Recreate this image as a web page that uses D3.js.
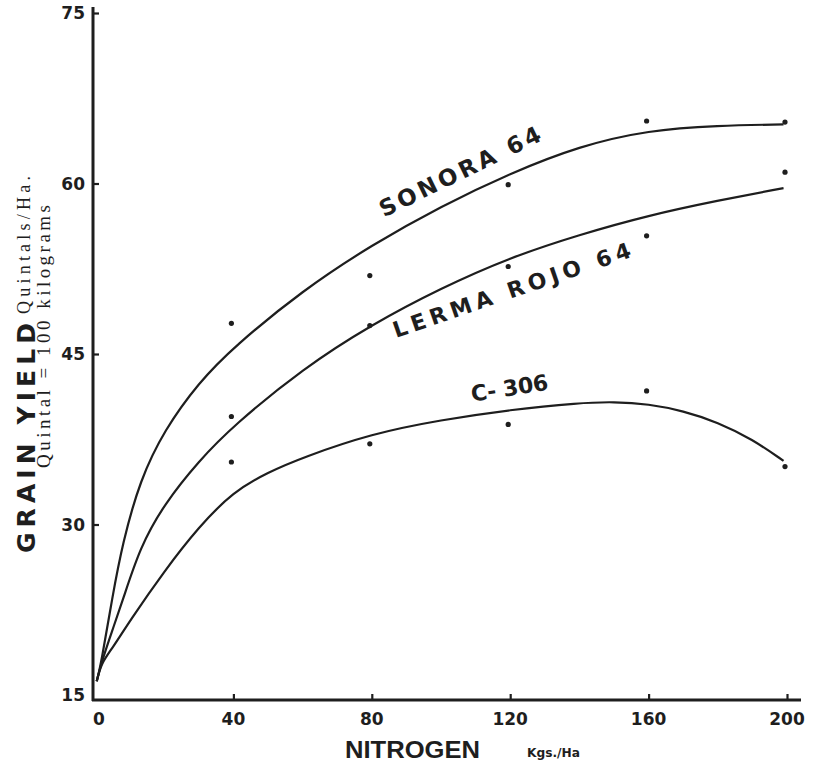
<!DOCTYPE html>
<html><head><meta charset="utf-8">
<script src="https://cdn.jsdelivr.net/npm/d3@7/dist/d3.min.js"></script>
<style>body{margin:0;background:#fff}svg{display:block}</style>
</head><body>
<script>
// ---- data ----
const xTicks = [0, 40, 80, 120, 160, 200];
const yTicks = [15, 30, 45, 60, 75];
const nitrogen = [40, 80, 120, 160, 200];
const sonoraPts = [47.7, 51.9, 59.9, 65.5, 65.4];
const lermaPts  = [39.5, 47.5, 52.7, 55.4, 61.0];
const c306Pts   = [35.5, 37.1, 38.8, 41.75, 35.1];
// fitted curves
const curveXA = [0.5, 1.8, 5, 8, 13, 20, 30, 40, 60, 80, 100, 120, 140, 160, 180, 199];
const sonoraCurve = [16.2, 17.8, 23.6, 28.4, 33.9, 38.3, 42.5, 45.6, 50.6, 54.6, 58.0, 60.9, 63.3, 64.7, 65.1, 65.2];
const lermaCurve  = [16.2, 17.8, 20.7, 23.3, 28.0, 31.8, 35.6, 38.7, 43.7, 47.6, 50.8, 53.5, 55.5, 57.2, 58.5, 59.6];
const curveXC = [0.5, 1.8, 5, 10, 20, 30, 40, 50, 60, 80, 100, 120, 140, 150, 160, 170, 180, 190, 199];
const c306Curve   = [16.2, 17.8, 19.1, 21.5, 25.9, 29.8, 32.9, 34.6, 35.9, 38.0, 39.2, 40.1, 40.7, 40.8, 40.6, 40.0, 39.0, 37.5, 35.6];

const W = 823, H = 766;
const svg = d3.select("body").append("svg").attr("width", W).attr("height", H);
const x = d3.scaleLinear().domain([0, 200]).range([95, 787]);
const y = d3.scaleLinear().domain([15, 75]).range([695, 13]);
const ink = "#1e1e1e";
const axisX = 93, axisY = 700;

// axes lines
svg.append("line").attr("x1", axisX).attr("x2", axisX).attr("y1", 7).attr("y2", axisY + 1)
  .attr("stroke", ink).attr("stroke-width", 3);
svg.append("line").attr("x1", axisX - 1).attr("x2", 801).attr("y1", axisY).attr("y2", axisY)
  .attr("stroke", ink).attr("stroke-width", 3);

// y ticks
const yg = svg.append("g").attr("transform", `translate(${axisX},0)`)
  .call(d3.axisRight(y).tickValues(yTicks.filter(d => d > 15)).tickSize(6).tickFormat(""));
yg.select(".domain").remove();
yg.selectAll(".tick line").attr("stroke", ink).attr("stroke-width", 2.2);
svg.selectAll(".ylab").data(yTicks).enter().append("text")
  .attr("x", 85).attr("y", d => y(d)).attr("dy", "0.36em")
  .attr("text-anchor", "end").attr("font-family", "DejaVu Sans").attr("font-weight", "bold")
  .attr("font-size", 17).attr("fill", ink).text(d => d);

// x ticks
const xg = svg.append("g").attr("transform", `translate(0,${axisY})`)
  .call(d3.axisTop(x).tickValues(xTicks.filter(d => d > 0)).tickSize(6).tickFormat(""));
xg.select(".domain").remove();
xg.selectAll(".tick line").attr("stroke", ink).attr("stroke-width", 2.2);
svg.selectAll(".xlab").data(xTicks).enter().append("text")
  .attr("x", d => x(d) + (d === 0 ? 4 : 0)).attr("y", 725)
  .attr("text-anchor", "middle").attr("font-family", "DejaVu Sans").attr("font-weight", "bold")
  .attr("font-size", 17).attr("fill", ink).text(d => d);

// curves
const line = d3.line().x(d => x(d[0])).y(d => y(d[1])).curve(d3.curveBasis);
const curves = [
  [curveXA, sonoraCurve], [curveXA, lermaCurve], [curveXC, c306Curve]
];
curves.forEach(([xs, ys]) => {
  svg.append("path").datum(xs.map((v, i) => [v, ys[i]])).attr("d", line)
    .attr("fill", "none").attr("stroke", ink).attr("stroke-width", 2.2);
});

// dots
[sonoraPts, lermaPts, c306Pts].forEach(pts => {
  svg.selectAll(null).data(pts.map((v, i) => [nitrogen[i], v])).enter().append("circle")
    .attr("cx", d => x(d[0]) - 2).attr("cy", d => y(d[1])).attr("r", 2.6).attr("fill", ink);
});

// curve labels
function label(txt, xv, yv, ang, size, len) {
  svg.append("text").attr("transform", `translate(${x(xv)},${y(yv)}) rotate(${ang})`)
    .attr("font-family", "DejaVu Sans").attr("font-weight", "bold").attr("font-size", size)
    .attr("fill", ink).attr("textLength", len).attr("lengthAdjust", "spacing").text(txt);
}
label("SONORA  64", 83.5, 57.0, -26, 23, 177);
label("LERMA ROJO 64", 87, 46.4, -19, 22, 250);
label("C- 306", 109, 40.8, -9, 22, 78);

// axis titles
svg.append("text").attr("transform", "translate(35,553) rotate(-90)")
  .attr("font-family", "DejaVu Sans").attr("font-weight", "bold").attr("font-size", 25)
  .attr("fill", ink).attr("textLength", 230).attr("lengthAdjust", "spacing").text("GRAIN  YIELD");
svg.append("text").attr("transform", "translate(30,314) rotate(-90)")
  .attr("font-family", "Liberation Serif").attr("font-size", 18)
  .attr("fill", ink).attr("textLength", 138).attr("lengthAdjust", "spacing").text("Quintals/Ha.");
svg.append("text").attr("transform", "translate(50,468) rotate(-90)")
  .attr("font-family", "Liberation Serif").attr("font-size", 19)
  .attr("fill", ink).attr("textLength", 263).attr("lengthAdjust", "spacing").text("Quintal = 100 kilograms");
svg.append("text").attr("x", 345).attr("y", 758)
  .attr("font-family", "Liberation Sans Narrow, Liberation Sans").attr("font-weight", "bold").attr("font-size", 23)
  .attr("fill", ink).attr("textLength", 135).attr("lengthAdjust", "spacingAndGlyphs").text("NITROGEN");
svg.append("text").attr("x", 527).attr("y", 757)
  .attr("font-family", "DejaVu Sans").attr("font-weight", "bold").attr("font-size", 12)
  .attr("fill", ink).attr("textLength", 53).attr("lengthAdjust", "spacingAndGlyphs").text("Kgs./Ha");
</script>
</body></html>
